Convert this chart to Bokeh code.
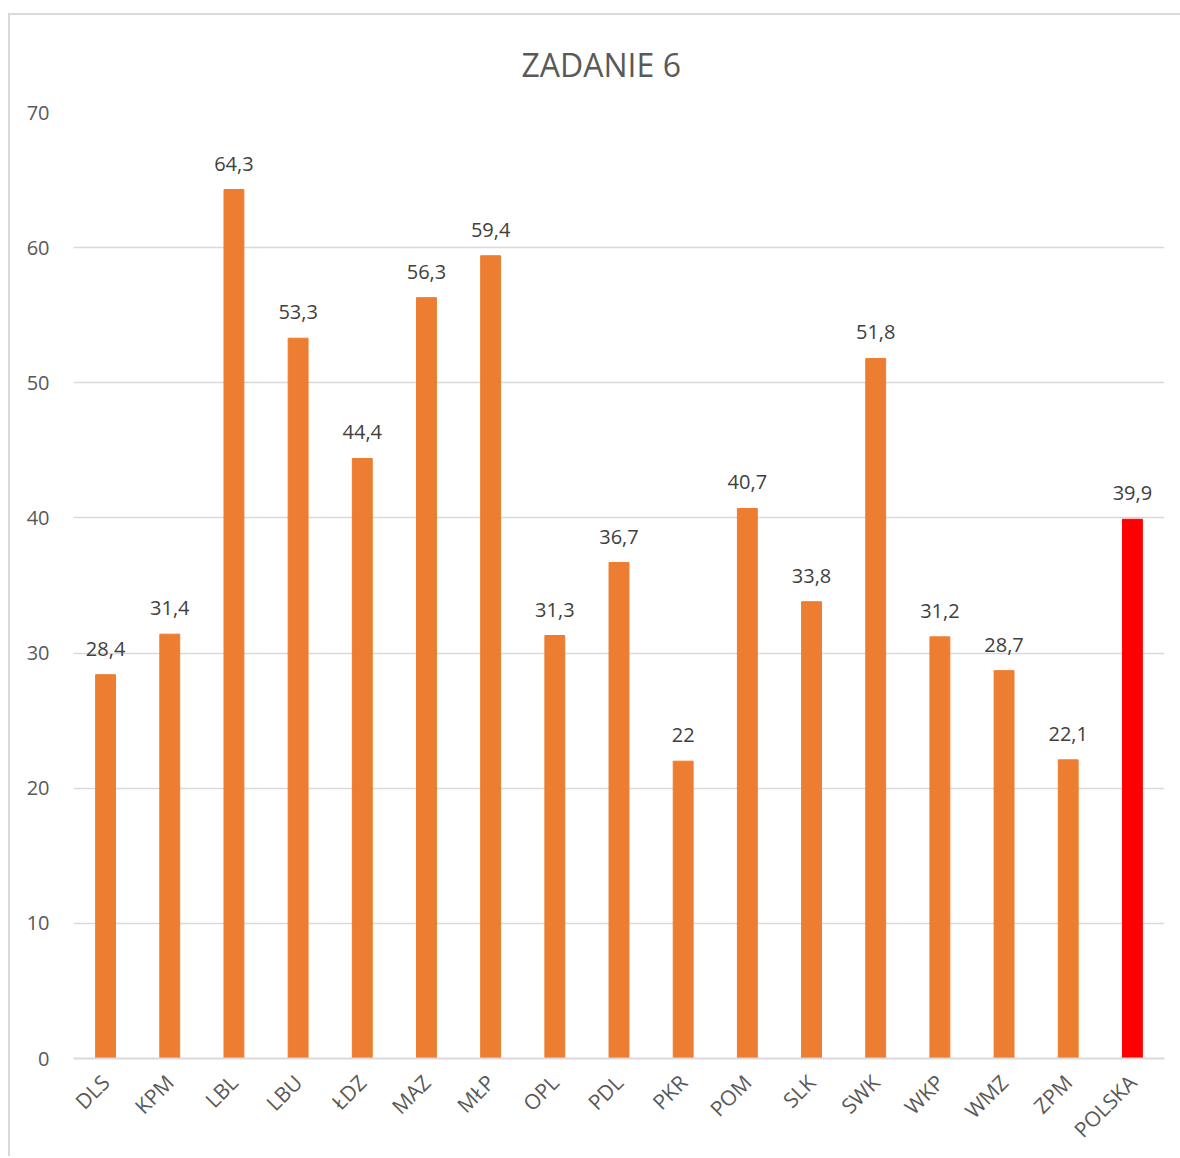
import math
from bokeh.plotting import figure
from bokeh.models import ColumnDataSource, LabelSet, FactorRange, Range1d, FixedTicker
from bokeh.core.properties import value
from bokeh.embed import file_html
from bokeh.resources import INLINE

title_text = "ZADANIE 6"
categories = ["DLS", "KPM", "LBL", "LBU", "ŁDZ", "MAZ", "MŁP", "OPL", "PDL", "PKR",
              "POM", "SLK", "SWK", "WKP", "WMZ", "ZPM", "POLSKA"]
values = [28.4, 31.4, 64.3, 53.3, 44.4, 56.3, 59.4, 31.3, 36.7, 22.0,
          40.7, 33.8, 51.8, 31.2, 28.7, 22.1, 39.9]
value_labels = ["28,4", "31,4", "64,3", "53,3", "44,4", "56,3", "59,4", "31,3", "36,7", "22",
                "40,7", "33,8", "51,8", "31,2", "28,7", "22,1", "39,9"]
colors = ["#ED7D31"] * 16 + ["#FF0000"]
y_ticks = [0, 10, 20, 30, 40, 50, 60, 70]

FONT = "Open Sans"

src = ColumnDataSource(dict(cat=categories, val=values, lab=value_labels, col=colors))

p = figure(x_range=FactorRange(*categories), y_range=Range1d(0, 70),
           width=1180, height=1156, output_backend="svg", toolbar_location=None,
           min_border_left=73, min_border_right=16, min_border_top=112, min_border_bottom=97)
p.border_fill_color = None
p.background_fill_color = None
p.styles = {
    "margin": "0px",
    "background": ("linear-gradient(#d9d9d9, #d9d9d9) 8px 13px / calc(100% - 8px) 2px no-repeat, "
                   "linear-gradient(#d9d9d9, #d9d9d9) 8px 13px / 2px calc(100% - 13px) no-repeat, "
                   "#ffffff"),
}

p.title.text = title_text
p.title.align = "left"
p.title.offset = 448
p.title.text_font = FONT
p.title.text_font_size = "32px"
p.title.text_font_style = "normal"
p.title.text_color = "#595959"
p.title.standoff = 54

p.vbar(x="cat", top="val", width=0.31, color="col", source=src)

labels = LabelSet(x="cat", y="val", text="lab", source=src, text_align="center",
                  text_baseline="bottom", y_offset=19, text_font=value(FONT),
                  text_font_size=value("20px"), text_color="#404040")
p.add_layout(labels)

p.outline_line_color = None
p.xgrid.grid_line_color = None
p.ygrid.grid_line_color = "#d9d9d9"
p.ygrid.grid_line_width = 1.5
p.yaxis.ticker = FixedTicker(ticks=y_ticks)
p.yaxis.axis_line_color = None
p.yaxis.major_tick_line_color = None
p.yaxis.minor_tick_line_color = None
p.yaxis.major_label_standoff = 18
p.yaxis.major_label_text_font = FONT
p.yaxis.major_label_text_font_size = "20px"
p.yaxis.major_label_text_color = "#595959"

p.xaxis.axis_line_color = "#d9d9d9"
p.xaxis.axis_line_width = 2
p.xaxis.major_tick_line_color = None
p.xaxis.minor_tick_line_color = None
p.xaxis.major_label_orientation = math.pi / 4
p.xaxis.major_label_standoff = 14
p.xaxis.major_label_text_font = FONT
p.xaxis.major_label_text_font_size = "21px"
p.xaxis.major_label_text_color = "#595959"
p.x_range.range_padding = 0
p.x_range.group_padding = 0

open("out.html", "w").write(file_html(p, INLINE))
